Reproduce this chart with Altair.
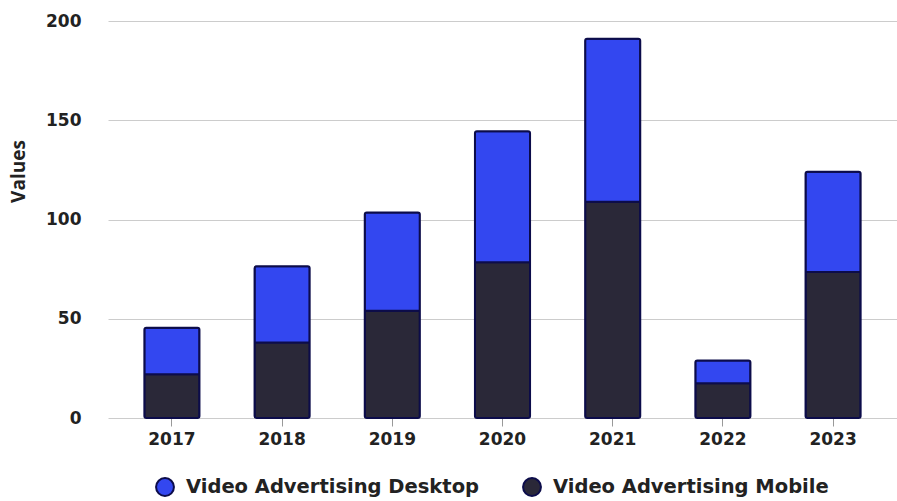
import altair as alt
import pandas as pd

years = ["2017", "2018", "2019", "2020", "2021", "2022", "2023"]
mobile = [22, 38, 54, 78.5, 109, 17.5, 73.5]
desktop = [23.5, 38.5, 49.5, 66, 82, 11.5, 50.5]
series = ["Video Advertising Desktop", "Video Advertising Mobile"]
colors = ["#3347f0", "#2a2838"]

rows = []
for y, m, d in zip(years, mobile, desktop):
    rows.append({"Year": y, "Series": series[1], "Value": m, "ord": 0})
    rows.append({"Year": y, "Series": series[0], "Value": d, "ord": 1})
df = pd.DataFrame(rows)

chart = alt.Chart(df).mark_bar(
    stroke="#0c0c4a", strokeWidth=2, cornerRadius=2
).encode(
    x=alt.X("Year:N", title=None,
            scale=alt.Scale(paddingInner=0.5, paddingOuter=0.33),
            axis=alt.Axis(labelAngle=0, domain=False, ticks=True, tickSize=8,
                          tickColor="#999999", labelPadding=5,
                          labelFont="DejaVu Sans", labelFontWeight="bold",
                          labelFontSize=17, labelColor="#222222")),
    y=alt.Y("Value:Q", title="Values",
            scale=alt.Scale(domain=[0, 200]),
            axis=alt.Axis(values=[0, 50, 100, 150, 200], domain=False, ticks=False,
                          gridColor="#cccccc", labelPadding=27,
                          labelFont="DejaVu Sans", labelFontWeight="bold",
                          labelFontSize=17, labelColor="#222222",
                          titleFont="Open Sans", titleFontWeight="bold",
                          titleFontSize=19, titleColor="#222222",
                          titleX=-80, titleY=150)),
    color=alt.Color("Series:N",
                    scale=alt.Scale(domain=series, range=colors),
                    legend=alt.Legend(title=None, orient="none", direction="horizontal",
                                      legendX=47, legendY=456,
                                      symbolType="circle", symbolSize=320,
                                      symbolStrokeColor="#0c0c4a", symbolStrokeWidth=2,
                                      labelFont="DejaVu Sans", labelFontWeight="bold",
                                      labelFontSize=19.5, labelColor="#222222",
                                      labelLimit=0, columnPadding=40, labelOffset=11)),
    order=alt.Order("ord:Q"),
).properties(
    width=789, height=397,
    autosize=alt.AutoSizeParams(type="none"),
    padding={"left": 108, "top": 21, "right": 0, "bottom": 83},
).configure(background="white").configure_view(stroke=None)

chart.save("out.html", embed_options={"renderer": "svg", "actions": False})
